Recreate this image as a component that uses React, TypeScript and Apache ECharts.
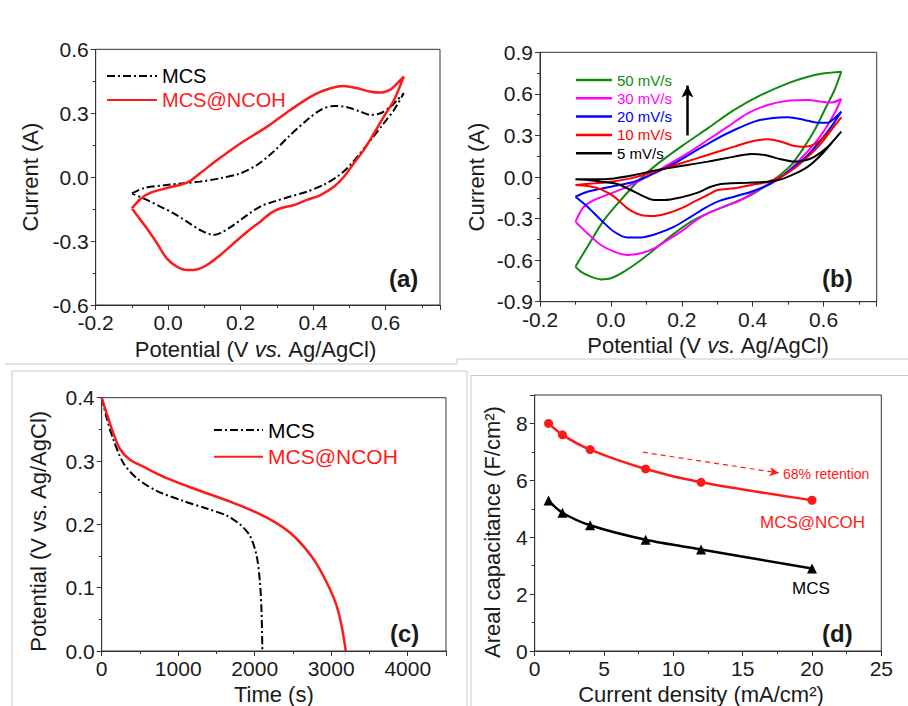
import React, { useEffect, useRef } from "react";
import * as echarts from "echarts";

type Pt = [number, number];

// ---------- (a) cyclic voltammograms, MCS vs MCS@NCOH ----------
const cvMcs: Pt[] = [
  [-0.1, -0.076], [-0.068, -0.052], [0, -0.036], [0.088, -0.021], [0.144, -0.005], [0.2, 0.018],
  [0.245, 0.057], [0.291, 0.12], [0.337, 0.198], [0.383, 0.268], [0.42, 0.315], [0.457, 0.334],
  [0.494, 0.328], [0.531, 0.307], [0.559, 0.292], [0.586, 0.3], [0.614, 0.331], [0.632, 0.362], [0.65, 0.394],
  [0.623, 0.315], [0.595, 0.253], [0.559, 0.174], [0.522, 0.096], [0.494, 0.042], [0.466, 0.002],
  [0.429, -0.036], [0.383, -0.068], [0.337, -0.091], [0.291, -0.115], [0.254, -0.138], [0.218, -0.178],
  [0.181, -0.224], [0.144, -0.263], [0.125, -0.271], [0.088, -0.248], [0.052, -0.209], [0.015, -0.17],
  [-0.022, -0.138], [-0.059, -0.107], [-0.1, -0.076],
];
const cvNcoh: Pt[] = [
  [-0.1, -0.146], [-0.075, -0.1], [-0.048, -0.073], [0, -0.05], [0.052, -0.026], [0.088, 0.018],
  [0.135, 0.08], [0.2, 0.159], [0.273, 0.237], [0.337, 0.315], [0.402, 0.386], [0.448, 0.417],
  [0.485, 0.428], [0.522, 0.417], [0.559, 0.401], [0.586, 0.397], [0.614, 0.412], [0.632, 0.44], [0.65, 0.472],
  [0.623, 0.362], [0.595, 0.284], [0.568, 0.206], [0.54, 0.128], [0.512, 0.065], [0.485, 0.002],
  [0.457, -0.045], [0.42, -0.084], [0.383, -0.107], [0.347, -0.131], [0.31, -0.146], [0.282, -0.17],
  [0.254, -0.209], [0.218, -0.256], [0.181, -0.31], [0.144, -0.365], [0.107, -0.412], [0.079, -0.433],
  [0.052, -0.436], [0.024, -0.42], [-0.004, -0.381], [-0.031, -0.31], [-0.059, -0.24], [-0.087, -0.177],
  [-0.1, -0.146],
];

// ---------- (b) MCS@NCOH at different scan rates ----------
const scanRates = ["50 mV/s", "30 mV/s", "20 mV/s", "10 mV/s", "5 mV/s"];
const cv50: Pt[] = [
  [-0.1, -0.647], [-0.066, -0.503], [-0.019, -0.31], [0.028, -0.166], [0.075, -0.034], [0.122, 0.075],
  [0.198, 0.219], [0.273, 0.351], [0.348, 0.484], [0.424, 0.592], [0.499, 0.676], [0.556, 0.724],
  [0.603, 0.748], [0.65, 0.76],
  [0.631, 0.628], [0.603, 0.484], [0.575, 0.339], [0.546, 0.219], [0.509, 0.087], [0.471, 0.002],
  [0.433, -0.07], [0.386, -0.142], [0.33, -0.202], [0.273, -0.262], [0.226, -0.322], [0.179, -0.407],
  [0.132, -0.503], [0.085, -0.599], [0.037, -0.683], [0, -0.731], [-0.028, -0.739], [-0.057, -0.719],
  [-0.085, -0.683], [-0.1, -0.647],
];
const cv30: Pt[] = [
  [-0.1, -0.322], [-0.076, -0.214], [-0.047, -0.166], [0, -0.118], [0.047, -0.07], [0.103, 0.002],
  [0.16, 0.087], [0.216, 0.171], [0.273, 0.267], [0.33, 0.363], [0.386, 0.46], [0.443, 0.52],
  [0.499, 0.551], [0.556, 0.556], [0.593, 0.544], [0.622, 0.537], [0.65, 0.563],
  [0.631, 0.46], [0.603, 0.339], [0.575, 0.243], [0.537, 0.135], [0.499, 0.038], [0.461, -0.034],
  [0.414, -0.094], [0.367, -0.166], [0.32, -0.214], [0.273, -0.262], [0.235, -0.322], [0.198, -0.394],
  [0.16, -0.455], [0.122, -0.515], [0.085, -0.551], [0.047, -0.563], [0.009, -0.539], [-0.028, -0.491],
  [-0.066, -0.407], [-0.1, -0.322],
];
const cv20: Pt[] = [
  [-0.1, -0.142], [-0.066, -0.106], [0, -0.07], [0.066, -0.034], [0.122, 0.026], [0.179, 0.099],
  [0.235, 0.183], [0.292, 0.267], [0.348, 0.339], [0.405, 0.4], [0.452, 0.424], [0.499, 0.431],
  [0.546, 0.412], [0.584, 0.392], [0.612, 0.392], [0.631, 0.424], [0.65, 0.472],
  [0.622, 0.363], [0.593, 0.267], [0.556, 0.159], [0.518, 0.075], [0.48, 0.002], [0.443, -0.058],
  [0.396, -0.106], [0.348, -0.142], [0.301, -0.178], [0.264, -0.226], [0.226, -0.286], [0.179, -0.358],
  [0.132, -0.407], [0.085, -0.436], [0.047, -0.436], [0.009, -0.395], [-0.028, -0.31], [-0.066, -0.214],
  [-0.1, -0.142],
];
const cv10: Pt[] = [
  [-0.1, -0.058], [-0.047, -0.046], [0, -0.034], [0.056, -0.01], [0.122, 0.038], [0.198, 0.099],
  [0.273, 0.159], [0.348, 0.219], [0.405, 0.262], [0.443, 0.272], [0.48, 0.255], [0.518, 0.224],
  [0.546, 0.219], [0.575, 0.238], [0.612, 0.315], [0.65, 0.431],
  [0.622, 0.339], [0.593, 0.243], [0.556, 0.147], [0.518, 0.063], [0.48, 0.002], [0.443, -0.034],
  [0.396, -0.058], [0.348, -0.082], [0.301, -0.094], [0.273, -0.13], [0.235, -0.178], [0.198, -0.226],
  [0.16, -0.262], [0.122, -0.281], [0.085, -0.274], [0.047, -0.226], [0.009, -0.142], [-0.028, -0.089],
  [-0.066, -0.065], [-0.1, -0.058],
];
const cv5: Pt[] = [
  [-0.1, -0.017], [-0.047, -0.017], [0.009, -0.01], [0.066, 0.014], [0.122, 0.046], [0.198, 0.079],
  [0.273, 0.111], [0.348, 0.147], [0.396, 0.166], [0.433, 0.159], [0.48, 0.128], [0.518, 0.111],
  [0.546, 0.118], [0.575, 0.147], [0.612, 0.219], [0.65, 0.327],
  [0.622, 0.243], [0.593, 0.159], [0.556, 0.075], [0.518, 0.022], [0.48, -0.017], [0.443, -0.034],
  [0.386, -0.041], [0.339, -0.046], [0.311, -0.05], [0.282, -0.07], [0.245, -0.113], [0.198, -0.147],
  [0.15, -0.166], [0.122, -0.166], [0.094, -0.142], [0.056, -0.094], [0.018, -0.05], [-0.028, -0.034],
  [-0.066, -0.022], [-0.1, -0.017],
];
const scanRateCurves: Pt[][] = [cv50, cv30, cv20, cv10, cv5];
const scanRateColors = ["#108a10", "#ff00ff", "#0000ff", "#ff0000", "#000000"];

// ---------- (c) galvanostatic discharge ----------
const gcdMcs: Pt[] = [
  [0, 0.4], [65, 0.368], [152, 0.334], [283, 0.297], [457, 0.273], [718, 0.253], [1066, 0.237],
  [1371, 0.225], [1632, 0.214], [1806, 0.2], [1937, 0.182], [2024, 0.151], [2068, 0.109],
  [2089, 0.062], [2100, 0],
];
const gcdNcoh: Pt[] = [
  [0, 0.4], [65, 0.375], [152, 0.344], [239, 0.319], [370, 0.302], [544, 0.291], [849, 0.273],
  [1284, 0.253], [1719, 0.234], [1980, 0.221], [2242, 0.205], [2459, 0.187], [2633, 0.166],
  [2807, 0.138], [2982, 0.098], [3069, 0.072], [3134, 0.041], [3190, 0],
];

// ---------- (d) areal capacitance vs current density ----------
const currentDensity = [1, 2, 4, 8, 12, 20];
const capNcoh = [8.0, 7.6, 7.08, 6.4, 5.93, 5.3];
const capMcs = [5.29, 4.86, 4.42, 3.91, 3.57, 2.9];
const retentionArrow: Pt[] = [[7.8, 6.99], [17.6, 6.26]];
const rateArrow: Pt[] = [[0.216, 0.3], [0.216, 0.66]];

const FONT = '"Liberation Sans", Arial, Helvetica, sans-serif';
const INK = "#1a1a1a";
const AXIS = "#333333";
const RED = "#ff1a1a";
const DASH_DOT = [8, 3, 2, 3];

function axis(o: {
  grid: number; min: number; max: number; interval: number;
  name: string; nameGap: number; digits: number; hideMax?: boolean; rich?: any; namePad?: number[];
}) {
  return {
    type: "value",
    gridIndex: o.grid,
    min: o.min,
    max: o.max,
    interval: o.interval,
    name: o.name,
    nameLocation: "middle",
    nameGap: o.nameGap,
    nameTextStyle: { fontSize: 22, color: INK, fontFamily: FONT, rich: o.rich, padding: o.namePad || 0 },
    axisLine: { show: true, onZero: false, lineStyle: { color: AXIS, width: 1 } },
    axisTick: { show: true, inside: false, length: 5, lineStyle: { color: AXIS } },
    minorTick: { show: true, splitNumber: 2, length: 3, lineStyle: { color: AXIS } },
    axisLabel: {
      fontSize: 21, color: INK, fontFamily: FONT, margin: 7,
      showMaxLabel: o.hideMax ? false : true,
      formatter: (v: number) => v.toFixed(o.digits),
    },
    splitLine: { show: false },
  };
}

const italicRich = { i: { fontStyle: "italic", fontSize: 22, color: INK, fontFamily: FONT } };

function line(name: string, data: Pt[], xi: number, color: string, width: number, dash?: any) {
  return {
    type: "line", name, data, xAxisIndex: xi, yAxisIndex: xi,
    showSymbol: false, symbol: "none", smooth: 0.3,
    lineStyle: { color, width, type: dash || "solid" },
    itemStyle: { color },
    silent: true,
  };
}

// legend entries show only the line sample, no marker
const legendBase = {
  orient: "vertical", padding: 0, selectedMode: false,
  itemStyle: { opacity: 0 },
};

export default function App() {
  const ref = useRef<HTMLDivElement>(null);
  useEffect(() => {
    if (!ref.current) return;
    const chart = echarts.init(ref.current, undefined, { renderer: "svg" });
    const frame = "#c8c8c8";
    const option: any = {
      animation: false,
      backgroundColor: "#ffffff",
      textStyle: { fontFamily: FONT },
      grid: [
        { left: 95.7, top: 49.3, width: 344.3, height: 255.7 },
        { left: 540, top: 52.3, width: 336.7, height: 249.4 },
        { left: 101.7, top: 397.7, width: 344.3, height: 255 },
        { left: 534.7, top: 395, width: 346.6, height: 257.7 },
      ].map((g) => ({ ...g, show: true, borderColor: AXIS, borderWidth: 1, backgroundColor: "transparent" })),
      xAxis: [
        axis({ grid: 0, min: -0.2, max: 0.75, interval: 0.2, name: "Potential (V {i|vs.} Ag/AgCl)", nameGap: 33, digits: 1, hideMax: true, rich: italicRich, namePad: [0, 24, 0, 0] }),
        axis({ grid: 1, min: -0.2, max: 0.75, interval: 0.2, name: "Potential (V {i|vs.} Ag/AgCl)", nameGap: 33, digits: 1, hideMax: true, rich: italicRich }),
        axis({ grid: 2, min: 0, max: 4500, interval: 1000, name: "Time (s)", nameGap: 32, digits: 0, hideMax: true }),
        axis({ grid: 3, min: 0, max: 25, interval: 5, name: "Current density (mA/cm²)", nameGap: 32, digits: 0, namePad: [0, 14, 0, 0] }),
      ],
      yAxis: [
        axis({ grid: 0, min: -0.6, max: 0.6, interval: 0.3, name: "Current (A)", nameGap: 54, digits: 1 }),
        axis({ grid: 1, min: -0.9, max: 0.9, interval: 0.3, name: "Current (A)", nameGap: 53, digits: 1 }),
        axis({ grid: 2, min: 0, max: 0.4, interval: 0.1, name: "Potential (V vs. Ag/AgCl)", nameGap: 52, digits: 1, namePad: [0, 14, 0, 0] }),
        axis({ grid: 3, min: 0, max: 9, interval: 2, name: "Areal capacitance (F/cm²)", nameGap: 31, digits: 0, hideMax: true, namePad: [0, 18, 0, 0] }),
      ],
      legend: [
        {
          ...legendBase, left: 106, top: 66, itemWidth: 50, itemHeight: 14, itemGap: 4,
          textStyle: { fontSize: 20, fontFamily: FONT },
          data: [{ name: "MCS", textStyle: { color: "#000" } }, { name: "MCS@NCOH", textStyle: { color: RED } }],
        },
        {
          ...legendBase, left: 574.7, top: 72.5, itemWidth: 36, itemHeight: 12, itemGap: 3.3,
          textStyle: { fontSize: 15, fontFamily: FONT },
          lineStyle: { width: 2.5 },
          data: scanRates.map((n, i) => ({ name: n, textStyle: { color: scanRateColors[i] } })),
        },
        {
          ...legendBase, left: 213, top: 419.5, itemWidth: 49, itemHeight: 14, itemGap: 5.7,
          textStyle: { fontSize: 21, fontFamily: FONT },
          data: [{ name: "MCS", textStyle: { color: "#000" } }, { name: "MCS@NCOH", textStyle: { color: RED } }],
        },
      ],
      series: [
        line("MCS", cvMcs, 0, "#000", 2, DASH_DOT),
        line("MCS@NCOH", cvNcoh, 0, RED, 2.5),
        ...scanRateCurves.map((d, i) => {
          const s: any = line(scanRates[i], d, 1, scanRateColors[i], 2);
          if (i === scanRates.length - 1) {
            s.markLine = {
              silent: true, symbol: ["none", "arrow"], symbolSize: [9, 12], label: { show: false },
              lineStyle: { color: "#000", width: 2.5, type: "solid" },
              emphasis: { disabled: true },
              data: [[{ coord: rateArrow[0] }, { coord: rateArrow[1] }]],
            };
          }
          return s;
        }),
        line("MCS", gcdMcs, 2, "#000", 2, DASH_DOT),
        line("MCS@NCOH", gcdNcoh, 2, RED, 2.5),
        {
          type: "line", name: "MCS@NCOH (d)", xAxisIndex: 3, yAxisIndex: 3, smooth: 0.3,
          data: currentDensity.map((x, i) => [x, capNcoh[i]]),
          symbol: "circle", symbolSize: 9, showSymbol: true,
          lineStyle: { color: RED, width: 2.5 }, itemStyle: { color: RED }, silent: true,
          markLine: {
            silent: true, symbol: ["none", "arrow"], symbolSize: [7, 9], label: { show: false },
            lineStyle: { color: RED, width: 1.2, type: [5, 4] },
            emphasis: { disabled: true },
            data: [[{ coord: retentionArrow[0] }, { coord: retentionArrow[1] }]],
          },
        },
        {
          type: "line", name: "MCS (d)", xAxisIndex: 3, yAxisIndex: 3, smooth: 0.3,
          data: currentDensity.map((x, i) => [x, capMcs[i]]),
          symbol: "triangle", symbolSize: 10, showSymbol: true,
          lineStyle: { color: "#000", width: 2.5 }, itemStyle: { color: "#000" }, silent: true,
        },
      ],
      graphic: [
        { type: "polyline", silent: true, shape: { points: [[5, 364], [457, 364], [457, 359], [908, 359]] }, style: { stroke: frame, lineWidth: 1, fill: "none" } },
        { type: "polyline", silent: true, shape: { points: [[12, 710], [12, 371], [467, 371], [467, 710]] }, style: { stroke: frame, lineWidth: 1, fill: "none" } },
        { type: "polyline", silent: true, shape: { points: [[471, 710], [471, 375.5], [910, 375.5]] }, style: { stroke: frame, lineWidth: 1, fill: "none" } },
        ...[["(a)", 389, 278], ["(b)", 822, 278], ["(c)", 390, 633], ["(d)", 822, 633]].map(([t, x, y]) => ({
          type: "text", silent: true, x, y,
          style: { text: t, fill: INK, font: `bold 24px ${FONT}`, align: "left", verticalAlign: "middle" },
        })),
        { type: "text", silent: true, x: 783, y: 474, style: { text: "68% retention", fill: RED, font: `14px ${FONT}`, align: "left", verticalAlign: "middle" } },
        { type: "text", silent: true, x: 760, y: 522, style: { text: "MCS@NCOH", fill: RED, font: `17px ${FONT}`, align: "left", verticalAlign: "middle" } },
        { type: "text", silent: true, x: 792, y: 588, style: { text: "MCS", fill: "#000", font: `17px ${FONT}`, align: "left", verticalAlign: "middle" } },
      ],
    };
    chart.setOption(option);
    return () => chart.dispose();
  }, []);
  return (
    <div
      ref={ref}
      style={{ position: "fixed", left: 0, top: 0, width: 908, height: 706, background: "#fff" }}
    />
  );
}
